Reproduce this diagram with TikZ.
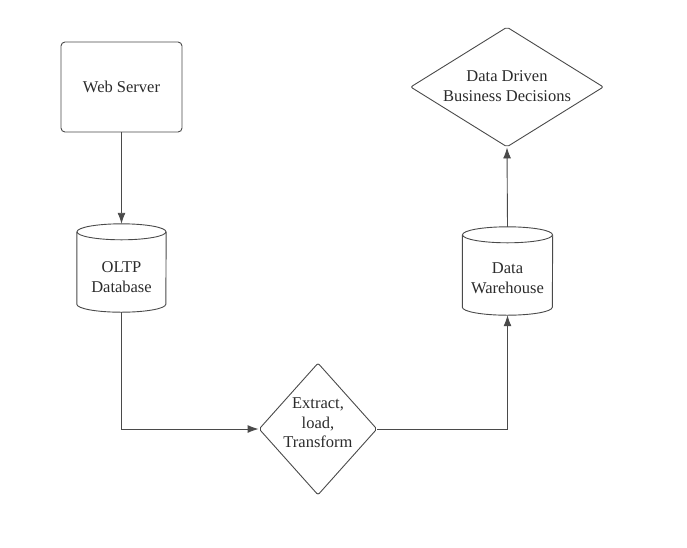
\documentclass[tikz,border=0pt]{standalone}
\usepackage{fontspec}
\setmainfont{Liberation Serif}
\usetikzlibrary{shapes.geometric,arrows.meta}
\definecolor{linec}{HTML}{4A4A4A}
\definecolor{textc}{HTML}{2B2B2B}
\tikzset{
  lbl/.style={align=center,text=textc,font=\fontsize{16.5}{19.5}\selectfont,inner sep=0pt},
  boxst/.style={draw=linec,line width=0.9pt,rounded corners=4pt,minimum width=121pt,minimum height=90pt,inner sep=0pt},
  cylbox/.style={minimum width=#1,minimum height=88pt,inner sep=0pt},
  diam/.style={draw=linec,line width=0.9pt,diamond,rounded corners=2pt,inner sep=0pt},
  shp/.style={draw=linec,line width=0.9pt},
  conn/.style={draw=linec,line width=0.9pt,-{Latex[length=11pt,width=8pt]}},
}
\begin{document}
\begin{tikzpicture}[x=1pt,y=-1pt]
\useasboundingbox (0,0) rectangle (687,547);
% web server
\node[boxst,lbl] (ws) at (121.5,87) {Web Server};
% OLTP cylinder
\node[cylbox=89pt] (oltp) at (121.5,268) {};
\draw[shp] ([yshift=-8pt]oltp.north) ellipse [x radius=44.5pt,y radius=8pt];
\draw[shp] ([yshift=-8pt]oltp.north west) -- ([yshift=8pt]oltp.south west)
  arc[start angle=180,end angle=360,x radius=44.5pt,y radius=8pt] -- ([yshift=-8pt]oltp.north east);
\node[lbl] (oltpT) at (121.5,277) {OLTP\\Database};
% warehouse cylinder
\node[cylbox=90pt] (wh) at (507.5,271) {};
\draw[shp] ([yshift=-8pt]wh.north) ellipse [x radius=45pt,y radius=8pt];
\draw[shp] ([yshift=-8pt]wh.north west) -- ([yshift=8pt]wh.south west)
  arc[start angle=180,end angle=360,x radius=45pt,y radius=8pt] -- ([yshift=-8pt]wh.north east);
\node[lbl] (whT) at (507.5,278) {Data\\Warehouse};
% ELT diamond
\node[diam,minimum width=118pt,minimum height=132pt] (elt) at (318,429) {};
\node[lbl] (eltT) at (318,423) {Extract,\\load,\\Transform};
% decisions diamond
\node[diam,minimum width=193pt,minimum height=120pt] (dd) at (507,87) {};
\node[lbl] (ddT) at (507,86) {Data Driven\\Business Decisions};
% connectors
\draw[conn] (ws.south) -- (oltp.north);
\draw[conn] (oltp.south) |- (elt.west);
\draw[conn] (elt.east) -| (wh.south);
\draw[conn] (wh.north) -- (dd.south);
\end{tikzpicture}
\end{document}
